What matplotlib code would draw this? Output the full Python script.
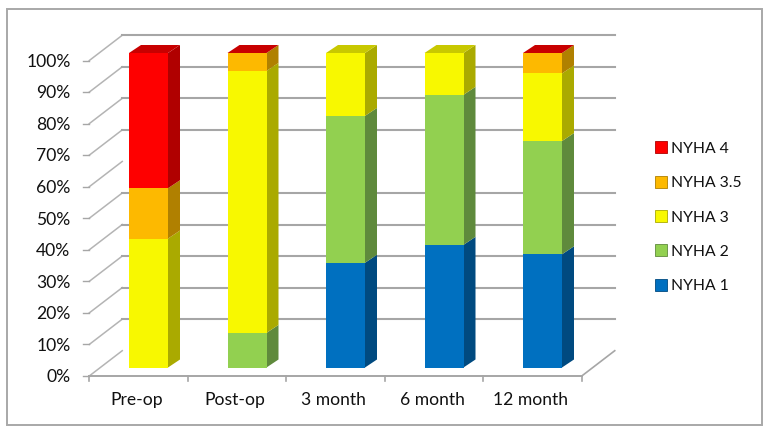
import numpy as np
import matplotlib
matplotlib.use("Agg")
import matplotlib.pyplot as plt
from matplotlib.patches import Polygon, Rectangle
from matplotlib.lines import Line2D

plt.rcParams["font.family"] = ["Lato", "DejaVu Sans"]

# ---------------------------------------------
# Data (nan = no value in that series)
# ---------------------------------------------
categories = ["Pre-op", "Post-op", "3 month", "6 month", "12 month"]
series_names = ["NYHA 1", "NYHA 2", "NYHA 3", "NYHA 3.5", "NYHA 4"]
nyha1 = [np.nan, np.nan, 33.3, 39.0, 36.0]
nyha2 = [np.nan, 11.0, 46.7, 47.7, 36.0]
nyha3 = [41.0, 83.3, 20.0, 13.3, 21.5]
nyha35 = [16.0, 5.7, np.nan, np.nan, 6.5]
nyha4 = [43.0, 0.0, np.nan, np.nan, 0.0]
all_series = [nyha1, nyha2, nyha3, nyha35, nyha4]
pct_ticks = list(range(0, 101, 10))
wall_lines = [10, 20, 30, 40, 50, 70, 80, 90, 100]

front_colors = ["#0070c0", "#92d050", "#f8f800", "#fdb900", "#fe0000"]
side_colors = ["#004a80", "#5f8a3c", "#aaaa00", "#b08000", "#b00000"]
top_colors = ["#005a9a", "#76a840", "#c8c800", "#d09800", "#c80000"]

W, H = 764, 426

fig = plt.figure(figsize=(W / 100, H / 100), dpi=100)

# border of the pasted chart
fig.add_artist(Rectangle((7.0 / W, 1 - 425 / H), 754.7 / W, 416 / H, transform=fig.transFigure,
                         fill=False, edgecolor="#a8a8a8", linewidth=1.4))

# axes is the plane of the bar fronts: x = category index, y = percent
px_per_cat = 98.5
px_per_pct = 3.145
left = 148.5 - 0.5 * px_per_cat
ax = fig.add_axes([left / W, 1 - 367.5 / H, 5 * px_per_cat / W, 100 * px_per_pct / H])
ax.set_xlim(-0.5, 4.5)
ax.set_ylim(0, 100)
ax.axis("off")

# offsets of the chart box planes, in data units
front_dx, front_dy = -10.0 / px_per_cat, -8.5 / px_per_pct
back_dx, back_dy = 23.0 / px_per_cat, 16.8 / px_per_pct
wall_scale = 1.003
bar_width = 39.0 / px_per_cat
depth_x, depth_y = 12.0 / px_per_cat, 8.0 / px_per_pct

# ---------------------------------------------
# Walls and floor
# ---------------------------------------------
grid_color = "#a6a6a6"
x_lo, x_hi = -0.5 + front_dx, 4.5 + front_dx
for p in pct_ticks:
    ax.plot([x_lo, x_lo + back_dx - front_dx], [p * wall_scale + front_dy, p * wall_scale + back_dy],
            color="#b4b4b4", lw=1.1, clip_on=False, zorder=1)
for p in wall_lines:
    ax.plot([x_lo + back_dx - front_dx, x_hi + back_dx - front_dx],
            [p * wall_scale + back_dy, p * wall_scale + back_dy],
            color=grid_color, lw=1.5, clip_on=False, zorder=1)
ax.plot([x_lo, x_hi], [front_dy, front_dy], color=grid_color, lw=1.4, clip_on=False, zorder=1)
ax.plot([x_hi, x_hi + back_dx - front_dx], [front_dy, back_dy], color=grid_color, lw=1.2,
        clip_on=False, zorder=1)

# ticks and labels
for i in range(6):
    tx = x_lo + i
    ax.plot([tx, tx], [front_dy, front_dy - 1.6], color=grid_color, lw=1.2, clip_on=False, zorder=1)
for p in pct_ticks:
    ax.plot([x_lo - 0.06, x_lo], [p * wall_scale + front_dy, p * wall_scale + front_dy], color=grid_color,
            lw=1.0, clip_on=False, zorder=1)
    ax.text(x_lo - 0.19, p * wall_scale + front_dy - 0.4, f"{p}%", ha="right", va="center", fontsize=12.6,
            color="#111111", clip_on=False)
for i, name in enumerate(categories):
    ax.text(i - 12.0 / px_per_cat, front_dy - 7.5, name, ha="center", va="center", fontsize=12.6,
            color="#111111", clip_on=False)

# ---------------------------------------------
# Stacked 3D-looking bars
# ---------------------------------------------
for i in range(len(categories)):
    bottom = 0.0
    last = 0
    x0 = i - bar_width / 2
    x1 = i + bar_width / 2
    for s, values in enumerate(all_series):
        v = values[i]
        if np.isnan(v):
            continue
        last = s
        if v > 0:
            ax.bar(i, v, width=bar_width, bottom=bottom, color=front_colors[s], zorder=3, clip_on=False)
            ax.add_patch(Polygon([(x1, bottom), (x1 + depth_x, bottom + depth_y),
                                  (x1 + depth_x, bottom + v + depth_y), (x1, bottom + v)],
                                 closed=True, facecolor=side_colors[s], edgecolor="none",
                                 zorder=2.5, clip_on=False))
        bottom += v
    ax.add_patch(Polygon([(x0, bottom), (x1, bottom), (x1 + depth_x, bottom + depth_y),
                          (x0 + depth_x, bottom + depth_y)],
                         closed=True, facecolor=top_colors[last], edgecolor="none",
                         zorder=2.5, clip_on=False))

# ---------------------------------------------
# Legend
# ---------------------------------------------
handles = [Line2D([], [], linestyle="none", marker="s", markersize=8.0, markerfacecolor=front_colors[s],
                  markeredgecolor=side_colors[s], markeredgewidth=0.6) for s in range(5)][::-1]
leg = ax.legend(handles, series_names[::-1], loc="center left", bbox_to_anchor=(651 / W, 1 - 217.5 / H),
                bbox_transform=fig.transFigure, frameon=False, fontsize=11.3, labelspacing=1.3,
                handletextpad=0.0, borderaxespad=0, borderpad=0, handlelength=1.3)
for t in leg.get_texts():
    t.set_color("#111111")

fig.savefig("out.png", dpi=100)
